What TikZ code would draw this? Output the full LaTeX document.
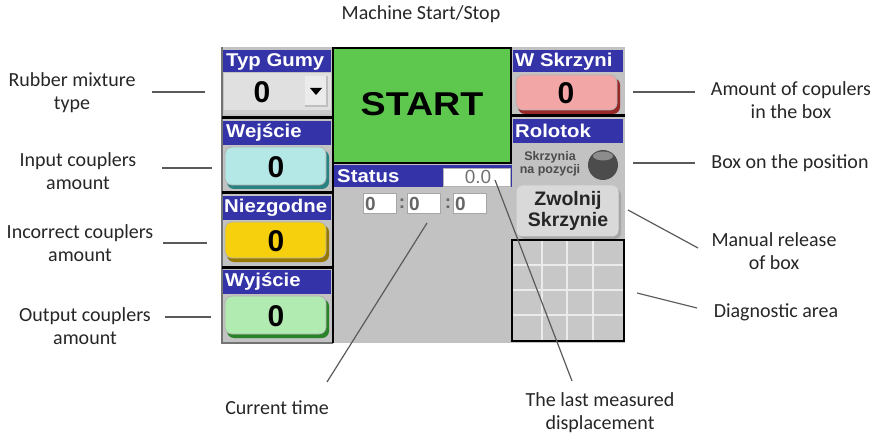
\documentclass[tikz,border=0pt]{standalone}
\usepackage{fontspec}
\setmainfont{Carlito}
\newfontfamily\ui{Liberation Sans}
\definecolor{hdrblue}{RGB}{52,52,168}
\definecolor{panelgrey}{RGB}{194,194,194}
\definecolor{startgreen}{RGB}{94,200,78}
\definecolor{cyanbtn}{RGB}{180,232,230}
\definecolor{cyansh}{RGB}{40,130,130}
\definecolor{yellowbtn}{RGB}{246,208,12}
\definecolor{yellowsh}{RGB}{150,120,0}
\definecolor{greenbtn}{RGB}{178,235,178}
\definecolor{greensh}{RGB}{40,130,40}
\definecolor{pinkbtn}{RGB}{243,166,166}
\definecolor{pinksh}{RGB}{150,40,40}
\definecolor{linegrey}{RGB}{90,90,90}
\newcommand\hx[1]{\scalebox{1.1}[1]{#1}}
\begin{document}
\begin{tikzpicture}[x=1pt,y=-1pt,
  lbl/.style={font=\fontsize{20}{23}\selectfont, text=black!85, align=center, inner sep=0pt},
  conn/.style={draw=linegrey, line width=1.2pt},
  hdrtxt/.style={font=\ui\bfseries\fontsize{18.5}{18.5}\selectfont, text=white, anchor=west, inner sep=0pt},
  digit/.style={font=\ui\bfseries\fontsize{30}{30}\selectfont, text=black, inner sep=0pt},
  small/.style={font=\ui\bfseries\fontsize{19}{19}\selectfont, text=black!60, inner sep=0pt},
  divider/.style={draw=black, line width=3pt},
  btnsh/.style={rounded corners=7pt},
  btn/.style={rounded corners=7pt, line width=0.8pt, draw=white!70!black}
]
\useasboundingbox (0,0) rectangle (877,438);

% ---------- panel ----------
\fill[panelgrey] (221,47) rectangle (625,343);
\draw[black!55, line width=1.2pt] (222,47) -- (222,343) -- (333,343);

% left column
\fill[hdrblue] (223,50) rectangle (331,72);
\node[hdrtxt] (hTyp) at (226,61.5) {\hx{Typ Gumy}};
\fill[black!20] (224,73) rectangle (331,114);
\fill[black!12] (224,73) rectangle (331,110);
\node[digit] (dTyp) at (262,92) {0};
\fill[black!25] (305,76) rectangle (328,107);
\fill[black!8] (305,76) rectangle (326,105);
\fill[black] (310,88) -- (322,88) -- (316,95) -- cycle;
\draw[divider] (222,118) -- (333,118);

\fill[hdrblue] (223,121) rectangle (331,145);
\node[hdrtxt] (hWej) at (226,133) {\hx{Wejście}};
\fill[btnsh, cyansh] (227,150) rectangle (329,189);
\draw[btn, fill=cyanbtn] (225,147) rectangle (326,185);
\node[digit] (dWej) at (276,167) {0};
\draw[divider] (222,193) -- (333,193);

\fill[hdrblue] (223,196) rectangle (331,220);
\node[hdrtxt] (hNie) at (224,208) {\hx{Niezgodne}};
\fill[btnsh, yellowsh] (227,225) rectangle (329,262);
\draw[btn, fill=yellowbtn] (225,222) rectangle (326,258);
\node[digit] (dNie) at (276,241) {0};
\draw[divider] (222,267) -- (333,267);

\fill[hdrblue] (223,270) rectangle (331,294);
\node[hdrtxt] (hWyj) at (225,282) {\hx{Wyjście}};
\fill[btnsh, greensh] (227,299) rectangle (329,338);
\draw[btn, fill=greenbtn] (225,296) rectangle (326,334);
\node[digit] (dWyj) at (276,316) {0};

% center
\draw[black, line width=2.5pt, fill=startgreen] (333,48) rectangle (511,163);
\node[font=\ui\bfseries\fontsize{33}{33}\selectfont, inner sep=0pt] (start) at (422,104) {\scalebox{1.14}[1]{START}};
\fill[hdrblue] (333,165) rectangle (512,187);
\node[hdrtxt] (status) at (337,176) {\hx{Status}};
\draw[black!30, fill=white, line width=0.8pt] (443,168) rectangle (510,186);
\node[small, font=\ui\fontsize{19}{19}\selectfont, text=black!55] (disp) at (478,177) {0.0};
\draw[black, line width=2pt] (333,163) -- (333,343);
\foreach \x/\n in {363/t1,407/t2,453/t3}{
  \draw[draw=black!35, fill=white, line width=1pt] (\x,194) rectangle ++(33,20);
  \node[small, anchor=west] (\n) at (\x+2,204) {0};
}
\node[small] (c1) at (402,204) {:};
\node[small] (c2) at (448,204) {:};

% right column
\fill[hdrblue] (513,50) rectangle (623,72);
\node[hdrtxt] (hWs) at (515,61.5) {\hx{W Skrzyni}};
\fill[btnsh, pinksh] (518,78) rectangle (620,114);
\draw[btn, fill=pinkbtn] (516,75) rectangle (617,110);
\node[digit] (dWs) at (566,93) {0};
\draw[divider] (512,116) -- (625,116);
\fill[hdrblue] (513,119) rectangle (623,143);
\node[hdrtxt] (hRol) at (515,131) {\hx{Rolotok}};
\node[font=\ui\bfseries\fontsize{12.5}{13.5}\selectfont, text=black!70, align=center, inner sep=0pt] (skrz) at (550,164) {Skrzynia\\na pozycji};
\fill[black!70] (603,165) circle (15);
\fill[black!45] (603,156) ellipse (10 and 4.5);
\fill[black!35] (519,189) [rounded corners=6pt] rectangle (621,239);
\draw[rounded corners=6pt, draw=white!85!black, fill=black!15, line width=1pt] (517,186) rectangle (618,236);
\node[font=\ui\bfseries\fontsize{19.5}{21}\selectfont, align=center, inner sep=0pt, text=black!85] (zwol) at (568,211) {Zwolnij\\Skrzynie};
\fill[black!22] (512,240) rectangle (624,341);
\foreach \x in {542,567,593}{\draw[white!92!black, line width=1.5pt] (\x,240) -- (\x,341);}
\foreach \y in {265,290,315}{\draw[white!92!black, line width=1.5pt] (512,\y) -- (624,\y);}
\draw[black, line width=2.5pt] (512,240) rectangle (624,341);

% ---------- labels ----------
\node[lbl] (lTop) at (421,14) {Machine Start/Stop};
\node[lbl] (lRub) at (72,93) {Rubber mixture\\type};
\node[lbl] (lInp) at (78,171) {Input couplers\\amount};
\node[lbl] (lInc) at (80,243) {Incorrect couplers\\amount};
\node[lbl] (lOut) at (85,326) {Output couplers\\amount};
\node[lbl] (lAmt) at (791,100) {Amount of copulers\\in the box};
\node[lbl] (lBox) at (790,163) {Box on the position};
\node[lbl] (lMan) at (774,251) {Manual release\\of box};
\node[lbl] (lDia) at (776,312) {Diagnostic area};
\node[lbl] (lCur) at (277,408) {Current time};
\node[lbl] (lLast) at (600,413) {The last measured\\displacement};

% connector end points
\coordinate (aRub) at (152,92);  \coordinate (bRub) at (205,92);
\coordinate (aInp) at (162,168); \coordinate (bInp) at (212,168);
\coordinate (aInc) at (163,243); \coordinate (bInc) at (207,243);
\coordinate (aOut) at (165,317); \coordinate (bOut) at (211,317);
\coordinate (aAmt) at (695,92);  \coordinate (bAmt) at (633,92);
\coordinate (aBox) at (695,163); \coordinate (bBox) at (633,163);
\coordinate (aMan) at (698,248); \coordinate (bMan) at (628,210);
\coordinate (aDia) at (697,308); \coordinate (bDia) at (637,293);
\coordinate (aCur) at (327,382); \coordinate (bCur) at (427,223);
\coordinate (aLast) at (572,381); \coordinate (bLast) at (495,180);

\draw[conn] (aRub) -- (bRub);
\draw[conn] (aInp) -- (bInp);
\draw[conn] (aInc) -- (bInc);
\draw[conn] (aOut) -- (bOut);
\draw[conn] (aAmt) -- (bAmt);
\draw[conn] (aBox) -- (bBox);
\draw[conn] (aMan) -- (bMan);
\draw[conn] (aDia) -- (bDia);
\draw[conn] (aCur) -- (bCur);
\draw[conn] (aLast) -- (bLast);
\end{tikzpicture}
\end{document}
